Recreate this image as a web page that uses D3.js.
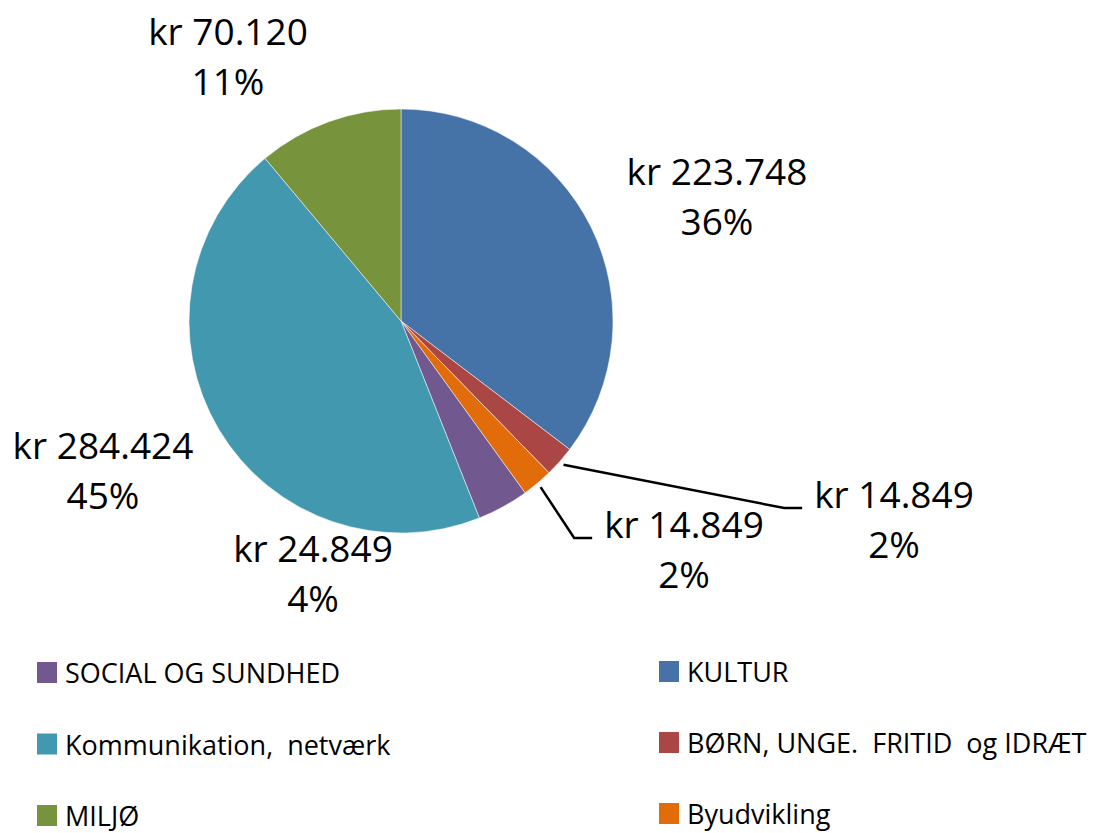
<!DOCTYPE html>
<html>
<head>
<meta charset="utf-8">
<script src="https://cdnjs.cloudflare.com/ajax/libs/d3/7.8.5/d3.min.js"></script>
<style>
  body { margin: 0; background: #fff; }
  svg text { font-family: "Open Sans", Lato, sans-serif; fill: #000; white-space: pre; }
</style>
</head>
<body>
<div id="chart"></div>
<script>
// data
const categories = ['KULTUR', 'BØRN, UNGE.  FRITID  og IDRÆT', 'Byudvikling', 'SOCIAL OG SUNDHED', 'Kommunikation,  netværk', 'MILJØ'];
const values = [223748, 14849, 14849, 24849, 284424, 70120];
const valueLabels = ['kr 223.748', 'kr 14.849', 'kr 14.849', 'kr 24.849', 'kr 284.424', 'kr 70.120'];
const pctLabels = ['36%', '2%', '2%', '4%', '45%', '11%'];
const colors = ['#4572a7', '#aa4643', '#e36c0a', '#71588f', '#4198af', '#77933c'];

// layout for data labels (x centre, first baseline) and which have leader lines
const labelPos = [[717, 185], [894, 508], [684, 538], [313, 562], [103, 459], [228, 45]];
const hasLeader = [false, true, true, false, false, false];

const W = 1097, H = 833;
const cx = 401, cy = 321, R = 212;
const labelSize = '37px', legendSize = '27px';

const svg = d3.select('#chart').append('svg')
    .attr('width', W)
    .attr('height', H);

const pie = d3.pie().sort(null).value(d => d);
const arcs = pie(values);
const arc = d3.arc().innerRadius(0).outerRadius(R);

const g = svg.append('g').attr('transform', `translate(${cx},${cy})`);

g.selectAll('path')
    .data(arcs)
    .enter().append('path')
    .attr('d', arc)
    .attr('fill', (d, i) => colors[i])
    .attr('stroke', '#fff')
    .attr('stroke-width', 0.5);

// leader lines
arcs.forEach((d, i) => {
    if (!hasLeader[i]) return;
    const mid = (d.startAngle + d.endAngle) / 2;
    const r0 = R + 5;
    const sx = cx + r0 * Math.sin(mid), sy = cy - r0 * Math.cos(mid);
    const w = svg.append('text').style('font-size', labelSize).text(valueLabels[i]);
    const tw = w.node().getComputedTextLength();
    w.remove();
    const ex = labelPos[i][0] - tw / 2 - 12;
    const ey = labelPos[i][1];
    svg.append('polyline')
        .attr('points', `${sx},${sy} ${ex - 18},${ey} ${ex},${ey}`)
        .attr('fill', 'none')
        .attr('stroke', '#000')
        .attr('stroke-width', 2.5);
});

// data labels
arcs.forEach((d, i) => {
    const [x, y] = labelPos[i];
    const t = svg.append('text')
        .attr('text-anchor', 'middle')
        .style('font-size', labelSize);
    t.append('tspan').attr('x', x).attr('y', y).text(valueLabels[i]);
    t.append('tspan').attr('x', x).attr('y', y + 50).text(pctLabels[i]);
});

// legend: first three on the right, last three on the left
const legend = svg.append('g');
categories.forEach((c, i) => {
    const right = i < 3;
    const row = i % 3;
    const lx = right ? 659 : 37;
    const ly = right ? 682 + row * 71 : 683 + row * 71.5;
    legend.append('rect')
        .attr('x', lx)
        .attr('y', ly - 21)
        .attr('width', 20)
        .attr('height', 21)
        .attr('fill', colors[i]);
    legend.append('text')
        .attr('x', lx + 28)
        .attr('y', ly)
        .style('font-size', legendSize)
        .text(c);
});
</script>
</body>
</html>
